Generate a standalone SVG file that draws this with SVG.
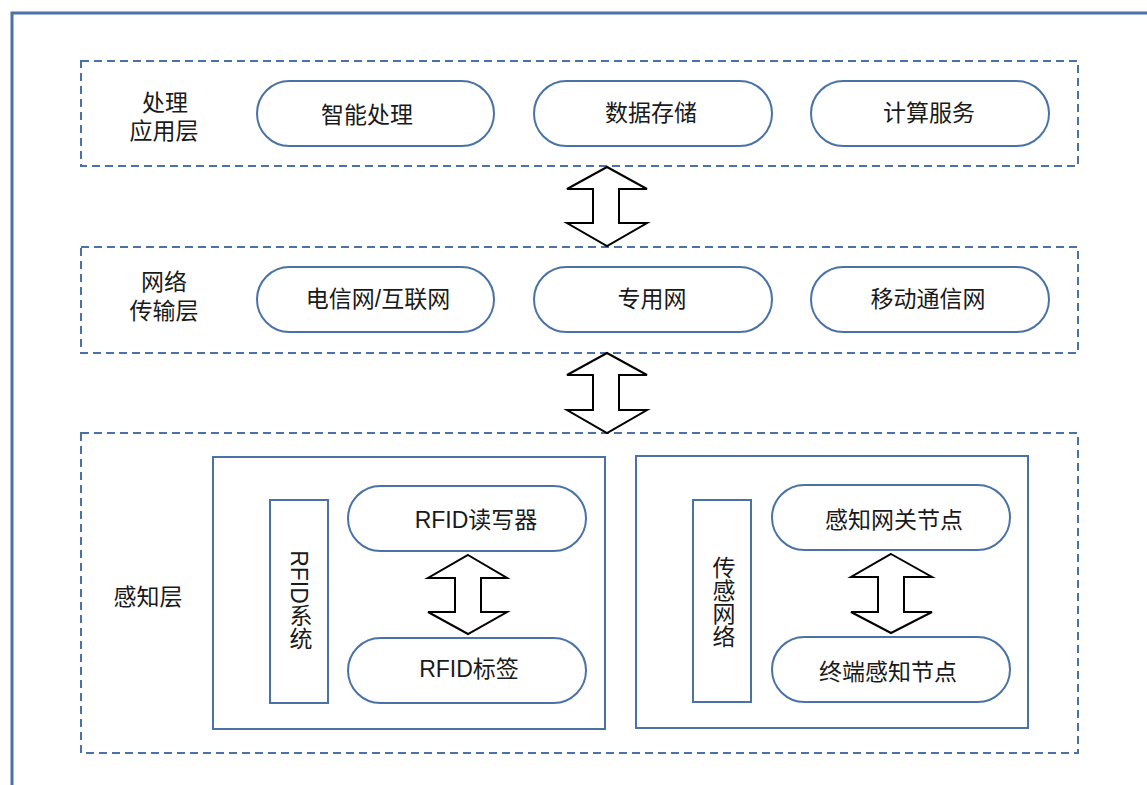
<svg xmlns="http://www.w3.org/2000/svg" width="1147" height="785" viewBox="0 0 1147 785">
<style>
.frame{fill:none;stroke:#4a72a6;stroke-width:3}
.layer{fill:none;stroke:#4a72a6;stroke-width:2;stroke-dasharray:8,5}
.pill{fill:#fff;stroke:#4a72a6;stroke-width:2}
.box{fill:#fff;stroke:#4a72a6;stroke-width:2}
.arrow{fill:#fff;stroke:#000;stroke-width:2;stroke-linejoin:miter}
text{font-family:"Liberation Sans","Noto Sans CJK SC",sans-serif;font-size:23px;fill:#1a1a1a;text-anchor:middle;dominant-baseline:central}
.vt{writing-mode:vertical-rl;text-orientation:mixed}
</style>
<rect width="1147" height="785" fill="#fff"/>
<path class="frame" d="M12,785 V13 H1147"/>
<g id="layer-app">
<rect class="layer" x="81" y="61" width="997" height="105"/>
<text x="165" y="103">处理</text>
<text x="164" y="131">应用层</text>
</g>
<g id="layer-net">
<rect class="layer" x="81" y="247" width="997" height="106"/>
<text x="164" y="282">网络</text>
<text x="164" y="311">传输层</text>
</g>
<g id="layer-sense">
<rect class="layer" x="81" y="433" width="997" height="320"/>
<text x="148" y="597">感知层</text>
</g>
<g id="n-zhineng"><rect class="pill" x="257" y="81" width="237" height="65" rx="32.5"/><text x="367" y="115">智能处理</text></g>
<g id="n-shuju"><rect class="pill" x="534" y="81" width="238" height="65" rx="32.5"/><text x="651" y="113">数据存储</text></g>
<g id="n-jisuan"><rect class="pill" x="811" y="81" width="238" height="65" rx="32.5"/><text x="929" y="113">计算服务</text></g>
<g id="n-dianxin"><rect class="pill" x="257" y="267" width="237" height="65" rx="32.5"/><text x="378" y="299">电信网/互联网</text></g>
<g id="n-zhuanyong"><rect class="pill" x="534" y="267" width="238" height="65" rx="32.5"/><text x="652" y="299">专用网</text></g>
<g id="n-yidong"><rect class="pill" x="811" y="267" width="238" height="65" rx="32.5"/><text x="928" y="299">移动通信网</text></g>
<g id="g-rfid">
<rect class="box" x="213" y="457" width="392" height="272"/>
</g>
<g id="n-rfidsys"><rect class="box" x="270" y="500" width="58" height="203"/><text class="vt" x="299" y="600">RFID系统</text></g>
<g id="n-reader"><rect class="pill" x="348" y="486" width="238" height="65" rx="32.5"/><text x="476" y="520">RFID读写器</text></g>
<g id="n-tag"><rect class="pill" x="348" y="638" width="238" height="65" rx="32.5"/><text x="469" y="669">RFID标签</text></g>
<g id="g-sensor">
<rect class="box" x="636" y="456" width="392" height="272"/>
</g>
<g id="n-sensornet"><rect class="box" x="693" y="500" width="58" height="202"/><text class="vt" x="722" y="602">传感网络</text></g>
<g id="n-gateway"><rect class="pill" x="772" y="485" width="238" height="65" rx="32.5"/><text x="894" y="520">感知网关节点</text></g>
<g id="n-terminal"><rect class="pill" x="772" y="637" width="238" height="65" rx="32.5"/><text x="888" y="672">终端感知节点</text></g>
<g id="connectors">
<path class="arrow" d="M607,167 L647,189 L619,189 L619,223 L647,223 L607,246 L567,223 L593,223 L593,189 L567,189 Z"/>
<path class="arrow" d="M607,353 L647,375 L619,375 L619,410 L647,410 L607,433 L567,410 L593,410 L593,375 L567,375 Z"/>
<path class="arrow" d="M468,555 L507,578 L481,578 L481,612 L507,612 L468,634 L428,612 L455,612 L455,578 L428,578 Z"/>
<path class="arrow" d="M891,554 L932,577 L904,577 L904,612 L932,612 L891,633 L851,612 L878,612 L878,577 L851,577 Z"/>
</g>
</svg>
